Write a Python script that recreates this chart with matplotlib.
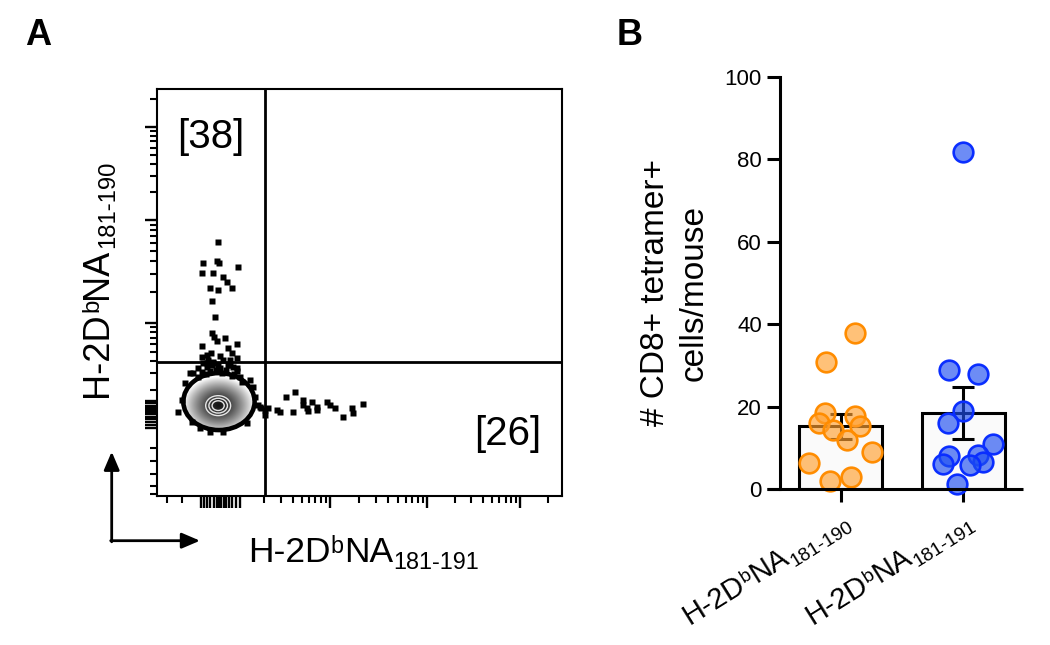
import numpy as np
import matplotlib
matplotlib.use('Agg')
import matplotlib.pyplot as plt
from matplotlib.patches import Ellipse, FancyArrowPatch
from matplotlib.lines import Line2D
from matplotlib.transforms import IdentityTransform

plt.rcParams['font.family'] = ['Liberation Sans', 'DejaVu Sans']

# ---------------- Panel A data (transformed fluorescence, axis-fraction units)
col_x = [0.150, 0.114, 0.147, 0.152, 0.201, 0.110, 0.139, 0.162, 0.174, 0.184, 0.131, 0.150, 0.135,
         0.143, 0.137, 0.141, 0.168, 0.147, 0.110, 0.198, 0.176, 0.133, 0.123, 0.156, 0.184, 0.110, 0.197]
col_y = [0.623, 0.573, 0.578, 0.572, 0.563, 0.547, 0.547, 0.537, 0.527, 0.510, 0.510, 0.506, 0.479,
         0.441, 0.400, 0.391, 0.389, 0.382, 0.369, 0.373, 0.363, 0.351, 0.346, 0.344, 0.351, 0.341, 0.338]
gate_near_x = [0.102, 0.114, 0.127, 0.139, 0.151, 0.164, 0.176, 0.188, 0.197, 0.205, 0.090, 0.123, 0.156, 0.180, 0.135,
               0.110, 0.145, 0.170, 0.190, 0.120, 0.130, 0.160, 0.185, 0.100, 0.210]
gate_near_y = [0.314, 0.326, 0.334, 0.326, 0.322, 0.334, 0.322, 0.318, 0.306, 0.293, 0.301, 0.318, 0.314, 0.334, 0.322,
               0.305, 0.310, 0.310, 0.300, 0.300, 0.308, 0.302, 0.295, 0.292, 0.280]
rim_x = [0.069, 0.053, 0.061, 0.106, 0.131, 0.254, 0.267, 0.238, 0.230, 0.123, 0.139, 0.180, 0.296, 0.081,
         0.197, 0.242, 0.086, 0.164, 0.221]
rim_y = [0.277, 0.207, 0.236, 0.166, 0.158, 0.219, 0.211, 0.269, 0.285, 0.326, 0.330, 0.322, 0.211, 0.301,
         0.314, 0.244, 0.183, 0.158, 0.179]
tail_x = [0.318, 0.341, 0.361, 0.382, 0.361, 0.370, 0.394, 0.419, 0.427, 0.440, 0.337, 0.304, 0.275, 0.267,
          0.460, 0.481, 0.485, 0.508, 0.250, 0.258, 0.394, 0.374]
tail_y = [0.244, 0.256, 0.236, 0.232, 0.224, 0.215, 0.219, 0.232, 0.224, 0.215, 0.207, 0.207, 0.215, 0.199,
          0.195, 0.215, 0.205, 0.225, 0.224, 0.217, 0.211, 0.209]
blob_center = (0.153, 0.232)
blob_half = (0.088, 0.070)
core_center = (0.151, 0.222)
gate_x = 0.2675
gate_y = 0.330
quad_text = ['[38]', '[26]']
# label parts: (main, superscript, main, subscript)
axis_A_x = ('H-2D', 'b', 'NA', '181-191')
axis_A_y = ('H-2D', 'b', 'NA', '181-190')

# ---------------- Panel B data
groups = [('H-2D', 'b', 'NA', '181-190'), ('H-2D', 'b', 'NA', '181-191')]
vals_190 = [37.9, 30.9, 18.5, 17.7, 16.1, 15.3, 14.3, 11.9, 9.1, 6.2, 3.0, 2.0]
vals_191 = [81.7, 29.0, 27.9, 19.0, 15.9, 10.9, 8.0, 8.25, 6.1, 6.6, 5.8, 1.2]
jit_190 = [0.118, -0.118, -0.124, 0.118, -0.172, 0.159, -0.059, 0.050, 0.254, -0.254, 0.083, -0.085]
jit_191 = [-0.002, -0.120, 0.120, -0.002, -0.124, 0.242, -0.116, 0.118, -0.169, 0.161, 0.053, -0.055]
y_ticks_B = [0, 20, 40, 60, 80, 100]
ylabel_B = '# CD8+ tetramer+\ncells/mouse'

W, H = 1050, 645
fig = plt.figure(figsize=(W / 100, H / 100), dpi=100)
renderer = fig.canvas.get_renderer()

def fx(px):
    return px / W

def fy(py):
    return (H - py) / H

def rich_label(x_disp, y_disp, parts, size_pt, angle=0.0, sup_scale=0.66, sub_scale=0.66,
               sup_shift=0.25, sub_shift=-0.2, gap=0.005):
    th = np.deg2rad(angle)
    u = np.array([np.cos(th), np.sin(th)])
    n = np.array([-np.sin(th), np.cos(th)])
    F = size_pt * fig.dpi / 72.0
    spec = [(parts[0], 1.0, 0.0), (parts[1], sup_scale, sup_shift),
            (parts[2], 1.0, 0.0), (parts[3], sub_scale, sub_shift)]
    off = 0.0
    base = np.array([x_disp, y_disp], dtype=float)
    for txt, sc, sh in spec:
        probe = fig.text(0, 0, txt, fontsize=size_pt * sc)
        w = probe.get_window_extent(renderer).width
        probe.remove()
        p = base + off * u + sh * F * n
        fig.text(p[0], p[1], txt, fontsize=size_pt * sc, transform=IdentityTransform(),
                 ha='left', va='baseline', rotation=angle, rotation_mode='anchor')
        off += w + gap * F

# ================= Panel A =================
axA = fig.add_axes([fx(157), fy(496), 405 / W, 407 / H])
axA.set_xlim(0, 1)
axA.set_ylim(0, 1)
for s in axA.spines.values():
    s.set_linewidth(1.5)

def decade_minors(starts, spans):
    out = []
    for st, d in zip(starts, spans):
        for k in range(2, 10):
            p = st + d * np.log10(k)
            if p < 0.995:
                out.append(p)
    return out

x_major = [0.427, 0.667, 0.896]
x_cluster = [0.108, 0.116, 0.124, 0.132, 0.140, 0.147, 0.153, 0.159, 0.165, 0.171, 0.178, 0.186, 0.196, 0.205]
x_minor = decade_minors([0.195, 0.427, 0.667, 0.896], [0.232, 0.240, 0.229, 0.229]) + [0.024, 0.062]
y_major = [0.425, 0.678, 0.907]
y_cluster = [0.168, 0.175, 0.182, 0.189, 0.195, 0.201, 0.206, 0.211, 0.216, 0.222, 0.228, 0.233]
y_minor = decade_minors([0.19, 0.425, 0.678, 0.907], [0.235, 0.253, 0.229, 0.229]) + [0.004, 0.024, 0.053, 0.086, 0.119]

axA.set_xticks(x_major + x_cluster)
axA.set_xticks(x_minor, minor=True)
axA.set_yticks(y_major + y_cluster)
axA.set_yticks(y_minor, minor=True)
axA.tick_params(which='major', length=8.4, width=1.7, direction='out',
                labelbottom=False, labelleft=False)
axA.tick_params(which='minor', length=4.8, width=1.5, direction='out')

# density blob
gx = np.linspace(blob_center[0] - blob_half[0] * 1.05, blob_center[0] + blob_half[0] * 1.05, 400)
gy = np.linspace(blob_center[1] - blob_half[1] * 1.05, blob_center[1] + blob_half[1] * 1.05, 400)
GX, GY = np.meshgrid(gx, gy)
r_out = np.hypot((GX - blob_center[0]) / blob_half[0], (GY - blob_center[1]) / blob_half[1])
r_core = np.hypot((GX - core_center[0]) / blob_half[0], (GY - core_center[1]) / blob_half[1])
shade = np.clip(r_core, 0, 1)
g = 0.08 + 0.92 * shade ** 1.4
rgba = np.zeros(GX.shape + (4,))
rgba[..., 0] = g
rgba[..., 1] = g
rgba[..., 2] = g
rgba[..., 3] = (r_out <= 1.0).astype(float)
axA.imshow(rgba, extent=[gx[0], gx[-1], gy[0], gy[-1]], origin='lower',
           interpolation='bilinear', aspect='auto', zorder=2)
for rr in (0.17, 0.26, 0.35):
    axA.add_patch(Ellipse(core_center, 2 * blob_half[0] * rr, 2 * blob_half[1] * rr,
                          fill=False, edgecolor='#e6e6e6', lw=1.0, zorder=3))
axA.add_patch(Ellipse(blob_center, 2 * blob_half[0], 2 * blob_half[1], fill=False,
                      edgecolor='black', lw=3.3, zorder=3))

ev_x = col_x + gate_near_x + rim_x + tail_x
ev_y = col_y + gate_near_y + rim_y + tail_y
axA.plot(ev_x, ev_y, linestyle='none', marker='s', ms=4.1, mec='none', color='black', zorder=4)

axA.axvline(gate_x, color='black', lw=2.0, zorder=5)
axA.axhline(gate_y, color='black', lw=2.0, zorder=5)

axA.text(0.0486, 0.854, quad_text[0], transform=axA.transAxes, fontsize=29,
         ha='left', va='baseline')
axA.text(0.783, 0.125, quad_text[1], transform=axA.transAxes, fontsize=29,
         ha='left', va='baseline')

rich_label(248, H - 561.7, axis_A_x, 25.5)
rich_label(107, H - 397, axis_A_y, 26, angle=90)

corner = (fx(111.7), fy(540.7))
arr_kw = dict(arrowstyle='-|>,head_length=11,head_width=4.7', mutation_scale=1,
              lw=2.0, color='black', shrinkA=0, shrinkB=0, transform=fig.transFigure)
fig.add_artist(FancyArrowPatch((corner[0], fy(541.8)), (fx(111.7), fy(451.7)), **arr_kw))
fig.add_artist(FancyArrowPatch((fx(110.7), corner[1]), (fx(200), corner[1]), **arr_kw))

fig.text(fx(25), fy(45), 'A', fontsize=26, fontweight='bold', ha='left', va='baseline')
fig.text(fx(617), fy(45), 'B', fontsize=26, fontweight='bold', ha='left', va='baseline')

# ================= Panel B =================
axB = fig.add_axes([fx(780), fy(489), 243 / W, 412 / H])
axB.set_xlim(-0.492, 1.484)
axB.set_ylim(0, 100)
for side in ('top', 'right', 'bottom'):
    axB.spines[side].set_visible(False)
axB.spines['left'].set_linewidth(2.2)
axB.add_line(Line2D([-13 / 243, 1.0], [0, 0], transform=axB.transAxes, color='black',
                    lw=2.2, clip_on=False, solid_capstyle='butt', zorder=6))

data = [np.array(vals_190), np.array(vals_191)]
means = [d.mean() for d in data]
sems = [d.std(ddof=1) / np.sqrt(len(d)) for d in data]
pos = [0, 1]
axB.bar(pos, means, width=0.675, color='#fafafa', edgecolor='black', linewidth=2.2, zorder=2)
axB.errorbar(pos, means, yerr=sems, fmt='none', ecolor='black', elinewidth=2.2,
             capsize=8, capthick=2.2, zorder=3)

axB.scatter(np.array(jit_190) + pos[0], vals_190, s=200, facecolor=(1.0, 0.627, 0.188, 0.65),
            edgecolor='#FF8C00', linewidth=1.9, zorder=4, clip_on=False)
axB.scatter(np.array(jit_191) + pos[1], vals_191, s=200, facecolor=(0.12, 0.31, 0.94, 0.65),
            edgecolor='#0A2EFF', linewidth=1.9, zorder=4, clip_on=False)

axB.set_yticks(y_ticks_B)
axB.set_yticklabels([str(v) for v in y_ticks_B])
axB.tick_params(axis='y', length=9.4, width=2.2, labelsize=16, pad=3.6)
axB.set_xticks(pos)
axB.set_xticklabels(['' for _ in pos])
axB.tick_params(axis='x', length=9.4, width=2.2)

for p, grp in zip(pos, groups):
    xd, _ = axB.transData.transform((p, 0))
    rich_label(xd - 150.5, H - 625, grp, 21, angle=32)

fig.text(fx(675), fy(293), ylabel_B, rotation=90, ha='center', va='center', fontsize=24,
         linespacing=1.3, multialignment='center')

fig.savefig('out.png', dpi=100)
